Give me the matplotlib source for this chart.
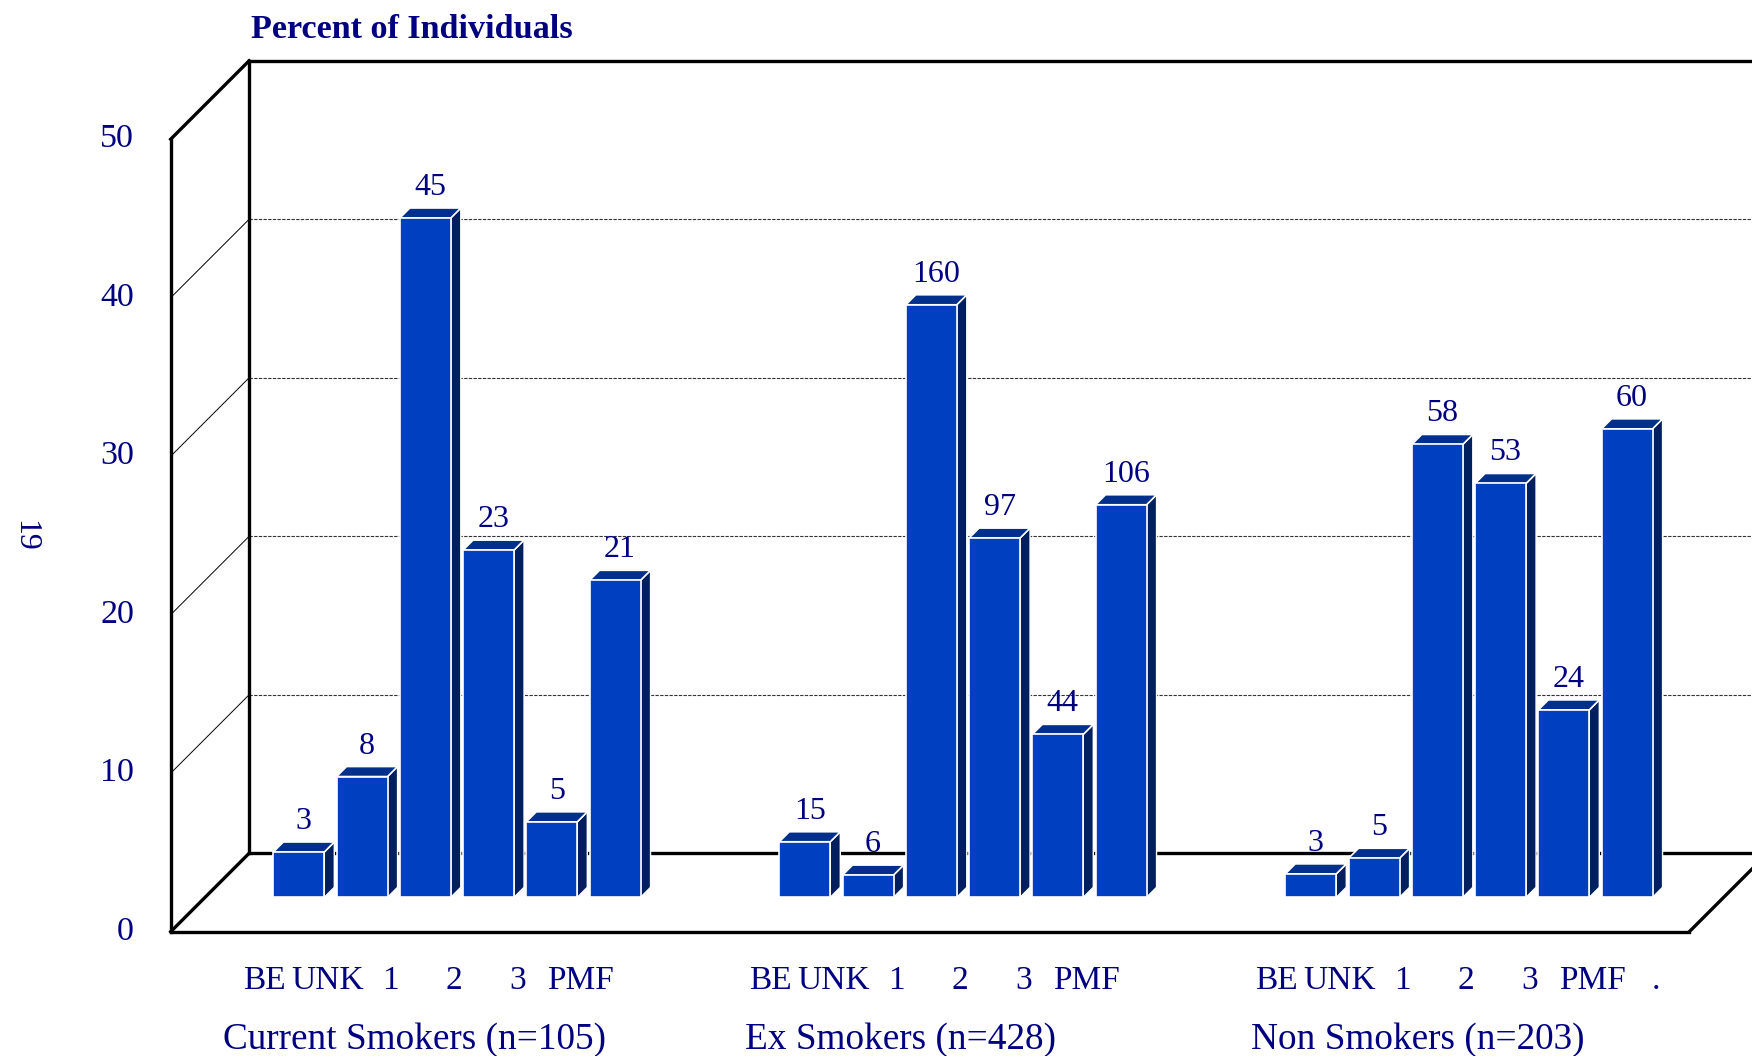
import matplotlib
matplotlib.use("Agg")
import matplotlib.pyplot as plt
from matplotlib.patches import Polygon
import numpy as np

# ---------------- data ----------------
groups = ["Current Smokers (n=105)", "Ex Smokers (n=428)", "Non Smokers (n=203)"]
group_n = [105, 428, 203]
categories = ["BE", "UNK", "1", "2", "3", "PMF"]
current_counts = [3, 8, 45, 23, 5, 21]
ex_counts = [15, 6, 160, 97, 44, 106]
non_counts = [3, 5, 58, 53, 24, 60]
last_group_extra_label = "."
y_ticks = [0, 10, 20, 30, 40, 50]
y_title = "Percent of Individuals"
page_number = "19"

counts = [current_counts, ex_counts, non_counts]

# ---------------- style ----------------
plt.rcParams['font.family'] = ['Liberation Serif', 'DejaVu Serif']
NAVY = "#000080"
FRONT = "#0040C0"
TOP = "#00308C"
SIDE = "#001F5E"

W, H = 1752, 1056
fig = plt.figure(figsize=(W / 100, H / 100), dpi=100)
ax = fig.add_axes([0, 0, 1, 1])

# pixel geometry of the pseudo-3D scale
slot_px = 63.25          # px per category slot
pct_px = 15.85           # px per percent
x0_px, y0_px = 298.8, 897.3
ax.set_xlim(-x0_px / slot_px, (W - x0_px) / slot_px)
ax.set_ylim(-(H - y0_px) / pct_px, y0_px / pct_px)
ax.axis("off")

kx, ky = 1 / slot_px, 1 / pct_px


def P(x, y, d):
    """project point at depth d (px, positive = further back)"""
    return (x + d * kx, y + d * ky)


d_front, d_back = -34.4, 44.0
bar_depth = 10.0
bar_w = 51.0 / slot_px
group_step = 8
group_label_shift = [-0.65, -0.4, -0.4]
XL = (205.1 - x0_px) / slot_px
XR = (1723.7 - x0_px) / slot_px
XFAR = XR + 3
ymax = y_ticks[-1]

thick = dict(color="black", lw=2.4, solid_capstyle="projecting", zorder=2)


def line(p, q, **kw):
    ax.plot([p[0], q[0]], [p[1], q[1]], **kw)


# gridlines on back wall and left wall
for v in y_ticks[1:-1]:
    line(P(XL, v, d_back), P(XFAR, v, d_back), color="#333333", lw=0.8,
         linestyle=(0, (3, 1.2)), zorder=1)
    line(P(XL, v, d_front), P(XL, v, d_back), color="black", lw=0.7, zorder=1)

# frame
line(P(XL, 0, d_front), P(XL, ymax, d_front), **thick)
line(P(XL, ymax, d_front), P(XL, ymax, d_back), **thick)
line(P(XL, 0, d_front), P(XL, 0, d_back), **thick)
line(P(XL, 0, d_back), P(XL, ymax, d_back), **thick)
line(P(XL, ymax, d_back), P(XFAR, ymax, d_back), **thick)
line(P(XL, 0, d_back), P(XFAR, 0, d_back), **thick)
line(P(XL, 0, d_front), P(XR, 0, d_front), **thick)
line(P(XR, 0, d_front), P(XR, 0, d_back + 20), **thick)

# bars
for g, (grp_counts, n) in enumerate(zip(counts, group_n)):
    xs = np.arange(len(grp_counts)) + g * group_step
    pct = np.array(grp_counts) / n * 100
    ax.bar(xs, pct, width=bar_w, color=FRONT, edgecolor="white",
           linewidth=1.2, zorder=4)
    for x, h, c in zip(xs, pct, grp_counts):
        l, r = x - bar_w / 2, x + bar_w / 2
        top = Polygon([P(l, h, 0), P(r, h, 0), P(r, h, bar_depth), P(l, h, bar_depth)],
                      closed=True, facecolor=TOP, edgecolor="white", lw=1.2, zorder=3)
        side = Polygon([P(r, 0, 0), P(r, h, 0), P(r, h, bar_depth), P(r, 0, bar_depth)],
                       closed=True, facecolor=SIDE, edgecolor="white", lw=1.0, zorder=3)
        ax.add_patch(side)
        ax.add_patch(top)
        tx, ty = P(x, h, 5)
        ax.text(tx, ty + 18 * ky, str(c), ha="center", va="baseline",
                fontsize=23, color=NAVY, zorder=5)

    # category labels at front plane
    labels = list(categories)
    if g == len(counts) - 1:
        labels.append(last_group_extra_label)
    for i, lab in enumerate(labels):
        lx, ly = P(i + g * group_step, 0, d_front)
        ax.text(lx, ly - 49 * ky, lab, ha="center", va="center",
                fontsize=24, color=NAVY)
    # group label
    gx, gy = P(g * group_step + group_label_shift[g], 0, d_front)
    ax.text(gx, gy - 108 * ky, groups[g], ha="left", va="center",
            fontsize=26.8, color=NAVY)

# y tick labels at the front plane
for v in y_ticks:
    tx, ty = P(XL, v, d_front)
    ax.text(tx - 36.7 * kx, ty, str(v), ha="right", va="center",
            fontsize=24.5, color=NAVY)

# axis title
tx, ty = P(XL, ymax, d_back)
ax.text(tx + 2 * kx, ty + 31 * ky, y_title, ha="left", va="center",
        fontsize=24.6, fontweight="bold", color=NAVY)

# page number
fig.text(25 / W, 1 - 536 / H, page_number, rotation=-90, ha="center", va="center",
         fontsize=23, color=NAVY)

fig.savefig("out.png", dpi=100, facecolor="white")
